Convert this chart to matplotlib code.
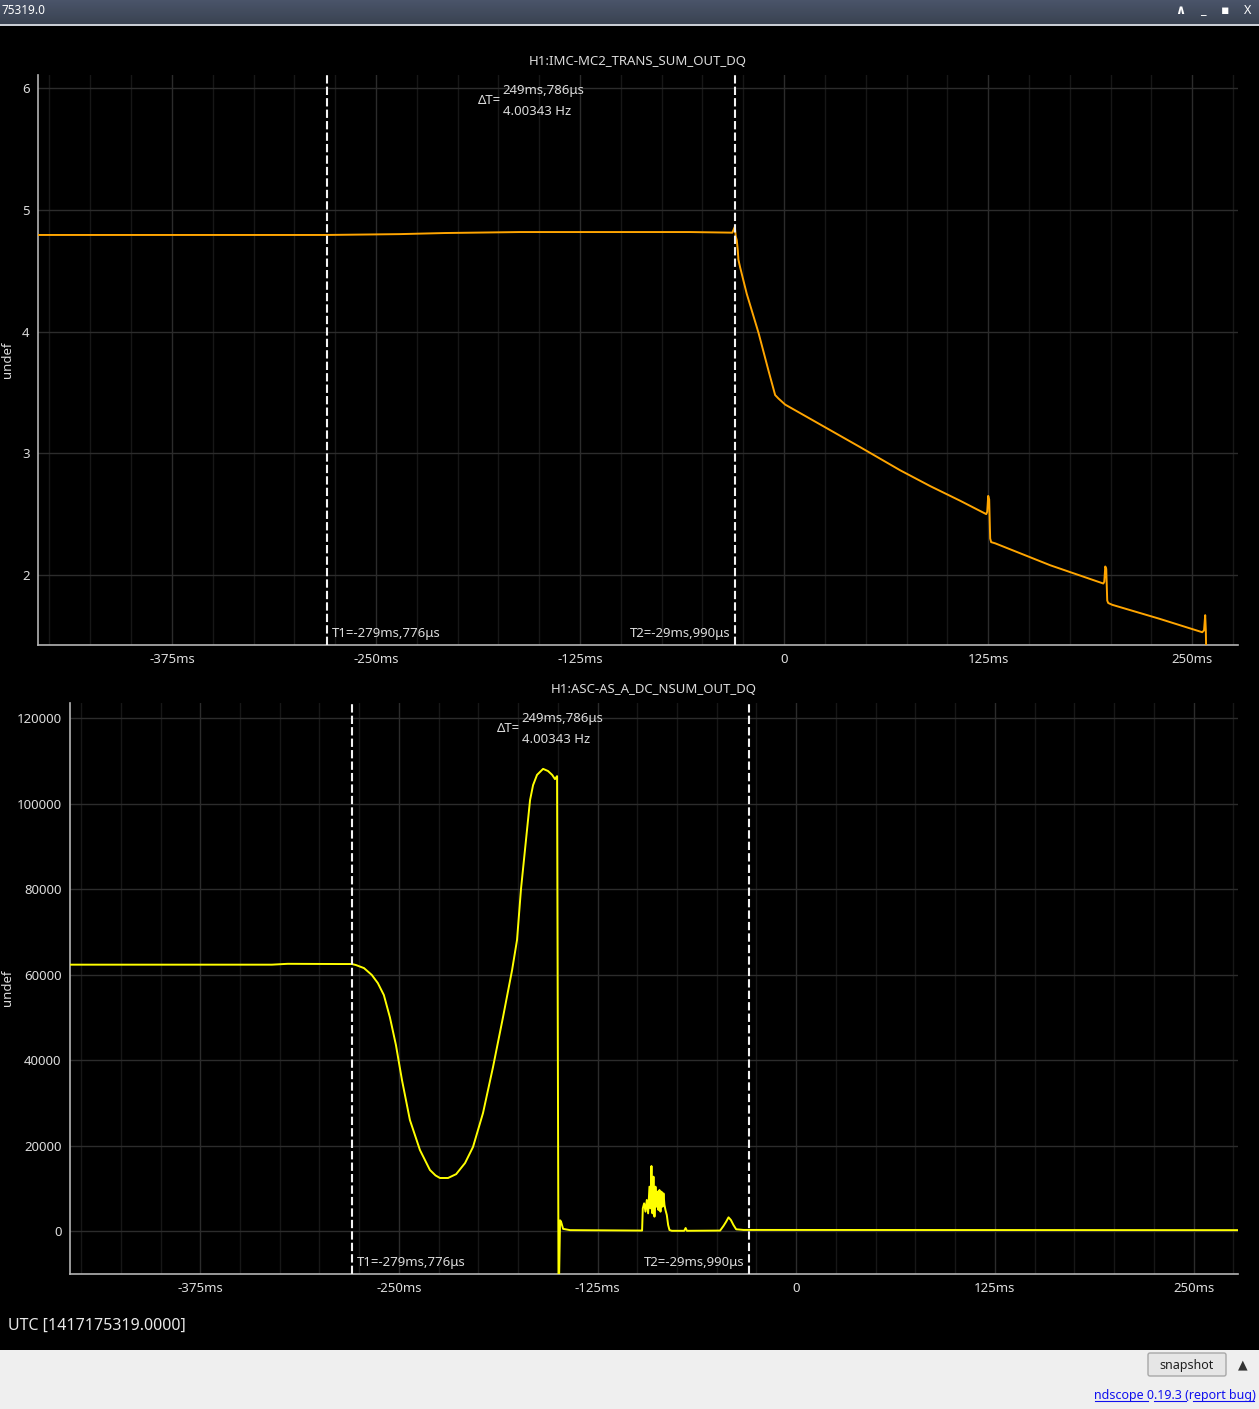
import numpy as np
import matplotlib
matplotlib.use("Agg")
import matplotlib.pyplot as plt
import matplotlib.patches as mpatches

plt.rcParams['font.family'] = ['Noto Sans', 'DejaVu Sans']

# ---------------- data ----------------
chan_top = 'H1:IMC-MC2_TRANS_SUM_OUT_DQ'
chan_bot = 'H1:ASC-AS_A_DC_NSUM_OUT_DQ'

t1_ms = -279.776
t2_ms = -29.990

top_t = [-457.1, -280.0, -235.3, -207.7, -161.8, -57.6, -31.7, -30.2, -29.6, -29.0,
         -28.4, -28.0, -27.0, -22.9, -15.7, -9.6, -5.5, -3.5, 0.6, 9.8,
         28.2, 46.6, 71.1, 89.5, 107.8, 123.8, 124.4, 125.0, 125.6, 126.2,
         126.8, 129.3, 163.0, 195.5, 196.1, 196.7, 197.3, 197.9, 198.5, 201.0,
         230.0, 256.1, 257.2, 257.9, 258.3, 258.6, 278.0]
top_v = [4.793, 4.793, 4.800, 4.809, 4.817, 4.817, 4.812, 4.860, 4.779, 4.750,
         4.670, 4.590, 4.530, 4.310, 3.990, 3.680, 3.478, 3.450, 3.400, 3.330,
         3.190, 3.050, 2.860, 2.730, 2.610, 2.500, 2.520, 2.650, 2.620, 2.300,
         2.270, 2.260, 2.080, 1.930, 1.945, 2.070, 2.050, 1.790, 1.770, 1.755,
         1.640, 1.530, 1.545, 1.670, 1.545, 1.300, 1.000]

bot_t = [-457.0, -330.0, -320.0, -287.2, -279.6, -277.1, -272.0, -267.1, -263.3, -259.5,
         -255.7, -251.9, -248.1, -243.1, -236.8, -230.5, -227.0, -224.2, -219.1, -214.0,
         -208.4, -203.4, -197.1, -190.8, -184.5, -178.8, -175.7, -173.2, -167.5, -165.6,
         -163.1, -159.3, -156.2, -153.6, -151.8, -150.5,
         -150.0, -149.6, -149.2, -148.6, -148.0, -146.7, -142.3,
         -97.0, -96.55, -95.71, -94.87, -94.03, -93.20, -92.36, -91.73, -91.10, -90.47,
         -89.84, -89.21, -88.58, -87.95, -87.32, -86.69, -86.06, -85.43, -84.80, -84.17,
         -83.54, -82.91, -82.28, -81.44, -80.60, -79.76, -78.29,
         -70.5, -69.6, -68.8, -47.9, -45.8, -44.1, -42.6, -41.1, -39.5, -37.8,
         -33.2, 278.0]
bot_v = [62300, 62300, 62500, 62450, 62450, 62220, 61500, 59900, 58000, 55200,
         50000, 43500, 35320, 25960, 18950, 14270, 13000, 12400, 12400, 13300,
         15900, 19650, 27600, 38360, 50050, 61050, 68060, 80000, 100800, 104300,
         106700, 108100, 107600, 106700, 105700, 106400,
         40000, -10500, -10500, 2500, 2200, 500, 200,
         100, 5300, 6470, 4520, 7250, 4130, 10370, 5300, 15200, 4130,
         12710, 3350, 10370, 5690, 9200, 4910, 9590, 4520, 9200, 5690,
         8810, 6080, 4910, 3740, 1400, 230, 50,
         50, 700, 50, 100, 1170, 2180, 3200, 2570, 1400, 400,
         250, 200]

xticks = [-375, -250, -125, 0, 125, 250]
xlabels = ['-375ms', '-250ms', '-125ms', '0', '125ms', '250ms']
top_yticks = [2, 3, 4, 5, 6]
bot_yticks = [0, 20000, 40000, 60000, 80000, 100000, 120000]

W, H = 1259, 1409
fig = plt.figure(figsize=(W / 100, H / 100), dpi=100)
fig.patch.set_facecolor('black')

txt_c = '#dcdcdc'


def fmt_ms(v):
    s = '-' if v < 0 else ''
    a = abs(v)
    ms = int(a)
    us = int(round((a - ms) * 1000))
    return f'{s}{ms}ms,{us}\u03bcs'


def px_ax(l, t, r, b):
    return fig.add_axes([l / W, 1 - b / H, (r - l) / W, (b - t) / H])


def setup(ax, title, yticks, ylim, color, tt, vv):
    ax.set_facecolor('black')
    ax.set_xlim(-457, 278)
    ax.set_ylim(*ylim)
    # minor (25 ms) and major grid
    for g in np.arange(-450, 276, 25):
        major = (g % 125 == 0)
        ax.axvline(g, color='#2c2c2c' if major else '#171717', lw=1, zorder=0)
    for g in yticks:
        ax.axhline(g, color='#2c2c2c', lw=1, zorder=0)
    ax.plot(tt, vv, color=color, lw=1.4, zorder=3)
    ax.set_xticks(xticks)
    ax.set_xticklabels(xlabels)
    ax.set_yticks(yticks)
    ax.set_yticklabels([str(v) for v in yticks])
    ax.tick_params(length=0, colors=txt_c, labelsize=9.5, pad=6)
    for s in ['top', 'right']:
        ax.spines[s].set_visible(False)
    for s in ['left', 'bottom']:
        ax.spines[s].set_color('#b4b4b4')
        ax.spines[s].set_linewidth(1.2)
    ax.set_title(title, color=txt_c, fontsize=9.5, pad=7)

    # cursors
    for t in (t1_ms, t2_ms):
        ax.axvline(t, color='#f2f2f2', lw=1.5, ls=(0, (4, 1.5)), zorder=4)
    ax.annotate('T1=' + fmt_ms(t1_ms), xy=(t1_ms, 0), xycoords=('data', 'axes fraction'),
                xytext=(3.6, 8.6), textcoords='offset points', ha='left', va='center',
                color=txt_c, fontsize=9.5, zorder=5)
    ax.annotate('T2=' + fmt_ms(t2_ms), xy=(t2_ms, 0), xycoords=('data', 'axes fraction'),
                xytext=(-3, 8.6), textcoords='offset points', ha='right', va='center',
                color=txt_c, fontsize=9.5, zorder=5)
    dt = t2_ms - t1_ms
    mid = (t1_ms + t2_ms) / 2
    ax.annotate('\u0394T=', xy=(mid, 1), xycoords=('data', 'axes fraction'),
                xytext=(-22, -18.5), textcoords='offset points', ha='right', va='center',
                color=txt_c, fontsize=9.5)
    ax.annotate(fmt_ms(dt), xy=(mid, 1), xycoords=('data', 'axes fraction'),
                xytext=(-20.5, -11.5), textcoords='offset points', ha='left', va='center',
                color=txt_c, fontsize=9.5)
    ax.annotate(f'{1000 / dt:.5f} Hz', xy=(mid, 1), xycoords=('data', 'axes fraction'),
                xytext=(-20.5, -26.2), textcoords='offset points', ha='left', va='center',
                color=txt_c, fontsize=9.5)


ax1 = px_ax(38, 75, 1238, 645)
setup(ax1, chan_top, top_yticks, (1.425, 6.107), '#ffa500', top_t, top_v)
ax2 = px_ax(70, 703, 1238, 1274)
setup(ax2, chan_bot, bot_yticks, (-10058, 123509), '#ffff00', bot_t, bot_v)

fig.text(8 / W, 1 - 360 / H, 'undef', rotation=90, ha='center', va='center', color=txt_c, fontsize=9.5)
fig.text(8 / W, 1 - 988 / H, 'undef', rotation=90, ha='center', va='center', color=txt_c, fontsize=9.5)

fig.text(8 / W, 1 - 1326 / H, 'UTC [1417175319.0000]', ha='left', va='center', color='#e8e8e8', fontsize=11.5)

# ---------------- window chrome ----------------
tb = px_ax(0, 0, W, 24)
grad = np.linspace(0, 1, 24)[:, None]
tb.imshow(grad, aspect='auto', cmap=matplotlib.colors.LinearSegmentedColormap.from_list(
    'tb', ['#4a5469', '#3a4352']), extent=(0, W, 24, 0))
tb.set_xlim(0, W)
tb.set_ylim(24, 0)
tb.axis('off')
tb.text(2, 11, '75319.0', color='white', fontsize=8.5, fontweight='bold', va='center', ha='left')
for x, s in [(1180, '\u2227'), (1203, '_'), (1225, '\u25aa'), (1248, 'X')]:
    tb.text(x, 11, s, color='white', fontsize=9, va='center', ha='center', fontweight='bold')
fig.add_artist(mpatches.Rectangle((0, 1 - 25.5 / H), 1, 1.5 / H, transform=fig.transFigure,
                                  facecolor='#c9cdd4', edgecolor='none'))

bb = px_ax(0, 1350, W, H)
bb.set_xlim(0, W)
bb.set_ylim(H, 1350)
bb.axis('off')
bb.add_patch(mpatches.Rectangle((0, 1350), W, 59, facecolor='#efefef', edgecolor='none'))
bb.add_patch(mpatches.FancyBboxPatch((1148, 1353), 78, 23, boxstyle='round,pad=0,rounding_size=2',
                                     facecolor='#e6e6e6', edgecolor='#a8a8a8', lw=1))
bb.text(1187, 1365, 'snapshot', ha='center', va='center', fontsize=9, color='#202020')
bb.text(1243, 1365, '\u25b2', ha='center', va='center', fontsize=9, color='#333333')
bb.text(1256, 1395, 'ndscope 0.19.3 (report bug)', ha='right', va='center', fontsize=9, color='#1010ee')
bb.plot([1095, 1148], [1401, 1401], color='#1010ee', lw=0.8)
bb.plot([1154, 1186], [1401, 1401], color='#1010ee', lw=0.8)
bb.plot([1193, 1254], [1401, 1401], color='#1010ee', lw=0.8)

fig.savefig('out.png', dpi=100, facecolor='black')
